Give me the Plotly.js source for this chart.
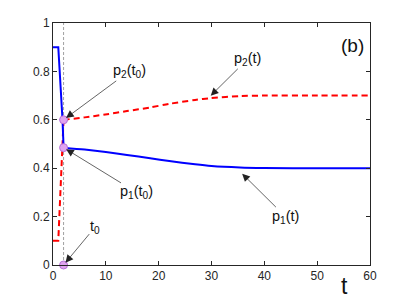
<!DOCTYPE html>
<html>
<head>
<meta charset="utf-8">
<script src="https://cdn.plot.ly/plotly-3.0.1.min.js"></script>
<style>html,body{margin:0;padding:0;background:#fff;}#chart{width:409px;height:298px;}</style>
</head>
<body>
<div id="chart"></div>
<script>
// Data
const t0 = 2;
// initial (pre-t0) segments
const p1StepT = [0, 1, 1.8, 2];
const p1StepV = [0.9, 0.9, 0.6, 0.485];
const p2StepT = [0, 1, 2];
const p2StepV = [0.1, 0.1, 0.6];
// smooth (post-t0) segments
const p1T = [2, 6, 10, 14, 18.4, 22, 26.9, 30, 35.4, 40, 50, 60];
const p1V = [0.485, 0.477, 0.467, 0.455, 0.441, 0.43, 0.416, 0.409, 0.403, 0.401, 0.400, 0.400];
const p2T = [2, 6, 9.9, 14, 18.4, 22, 26.9, 29.7, 35.4, 40, 50, 60];
const p2V = [0.6, 0.61, 0.622, 0.636, 0.651, 0.666, 0.682, 0.689, 0.698, 0.70, 0.70, 0.70];
const markT = [t0, t0, t0];
const markV = [0.6, 0.485, 0];
const vlineT = [t0, t0];
const vlineV = [0, 1];
const xTicks = [0, 10, 20, 30, 40, 50, 60];
const yTicks = [0, 0.2, 0.4, 0.6, 0.8, 1];

const axisColor = '#262626';
const fam = 'Liberation Sans, Arial, sans-serif';
const font = {family: fam, size: 12, color: axisColor};

const redLine = {color: '#ff0000', width: 2, dash: '6px,4px'};
const blueLine = {color: '#0000ff', width: 2};
const traces = [
  {x: vlineT, y: vlineV, mode: 'lines', line: {color: '#888', width: 0.8, dash: '3px,2px'}, hoverinfo: 'skip'},
  {x: p2StepT, y: p2StepV, mode: 'lines', line: redLine},
  {x: p2T, y: p2V, mode: 'lines', line: Object.assign({shape: 'spline', smoothing: 0.8}, redLine)},
  {x: p1StepT, y: p1StepV, mode: 'lines', line: blueLine},
  {x: p1T, y: p1V, mode: 'lines', line: Object.assign({shape: 'spline', smoothing: 0.8}, blueLine)},
  {x: markT, y: markV, mode: 'markers', marker: {size: 8, color: '#e0a3f0', line: {color: '#b870d8', width: 1}}, cliponaxis: false}
];

function callout(x, y, tx, ty, txt) {
  return {x: x, y: y, ax: tx, ay: ty, xref: 'x', yref: 'y', axref: 'x', ayref: 'y',
    text: txt, showarrow: true, arrowhead: 2, arrowsize: 2.2, arrowwidth: 0.7, arrowcolor: '#222', standoff: 3,
    font: {family: fam, size: 14.5, color: '#111'}, borderpad: 0};
}

const layout = {
  width: 409, height: 298,
  margin: {l: 53, r: 39, t: 23, b: 33},
  paper_bgcolor: '#fff', plot_bgcolor: '#fff',
  showlegend: false,
  font: font,
  xaxis: {range: [0, 60], tickvals: xTicks, ticktext: xTicks.map(String), ticks: 'inside', ticklen: 4,
    tickcolor: axisColor, showline: true, linecolor: axisColor, linewidth: 1, mirror: 'ticks',
    showgrid: false, zeroline: false, tickfont: font},
  yaxis: {range: [0, 1], tickvals: yTicks, ticktext: yTicks.map(String), ticks: 'inside', ticklen: 4,
    tickcolor: axisColor, showline: true, linecolor: axisColor, linewidth: 1, mirror: 'ticks',
    showgrid: false, zeroline: false, tickfont: font},
  annotations: [
    callout(t0, 0.6, 14.4, 0.80, 'p<sub>2</sub>(t<sub>0</sub>)'),
    callout(t0, 0.485, 15.8, 0.30, 'p<sub>1</sub>(t<sub>0</sub>)'),
    callout(t0, 0, 7.9, 0.155, 't<sub>0</sub>'),
    callout(29.45, 0.691, 36.8, 0.85, 'p<sub>2</sub>(t)'),
    callout(35.4, 0.386, 44, 0.20, 'p<sub>1</sub>(t)'),
    {x: 56.6, y: 0.905, xref: 'x', yref: 'y', text: '(b)', showarrow: false,
     font: {family: fam, size: 19, color: '#111'}, xanchor: 'center', yanchor: 'middle'},
    {x: 55.1, y: -0.085, xref: 'x', yref: 'paper', text: 't', showarrow: false,
     font: {family: fam, size: 23, color: '#111'}, xanchor: 'center', yanchor: 'middle'}
  ]
};

Plotly.newPlot('chart', traces, layout, {displayModeBar: false, staticPlot: true});
</script>
</body>
</html>
